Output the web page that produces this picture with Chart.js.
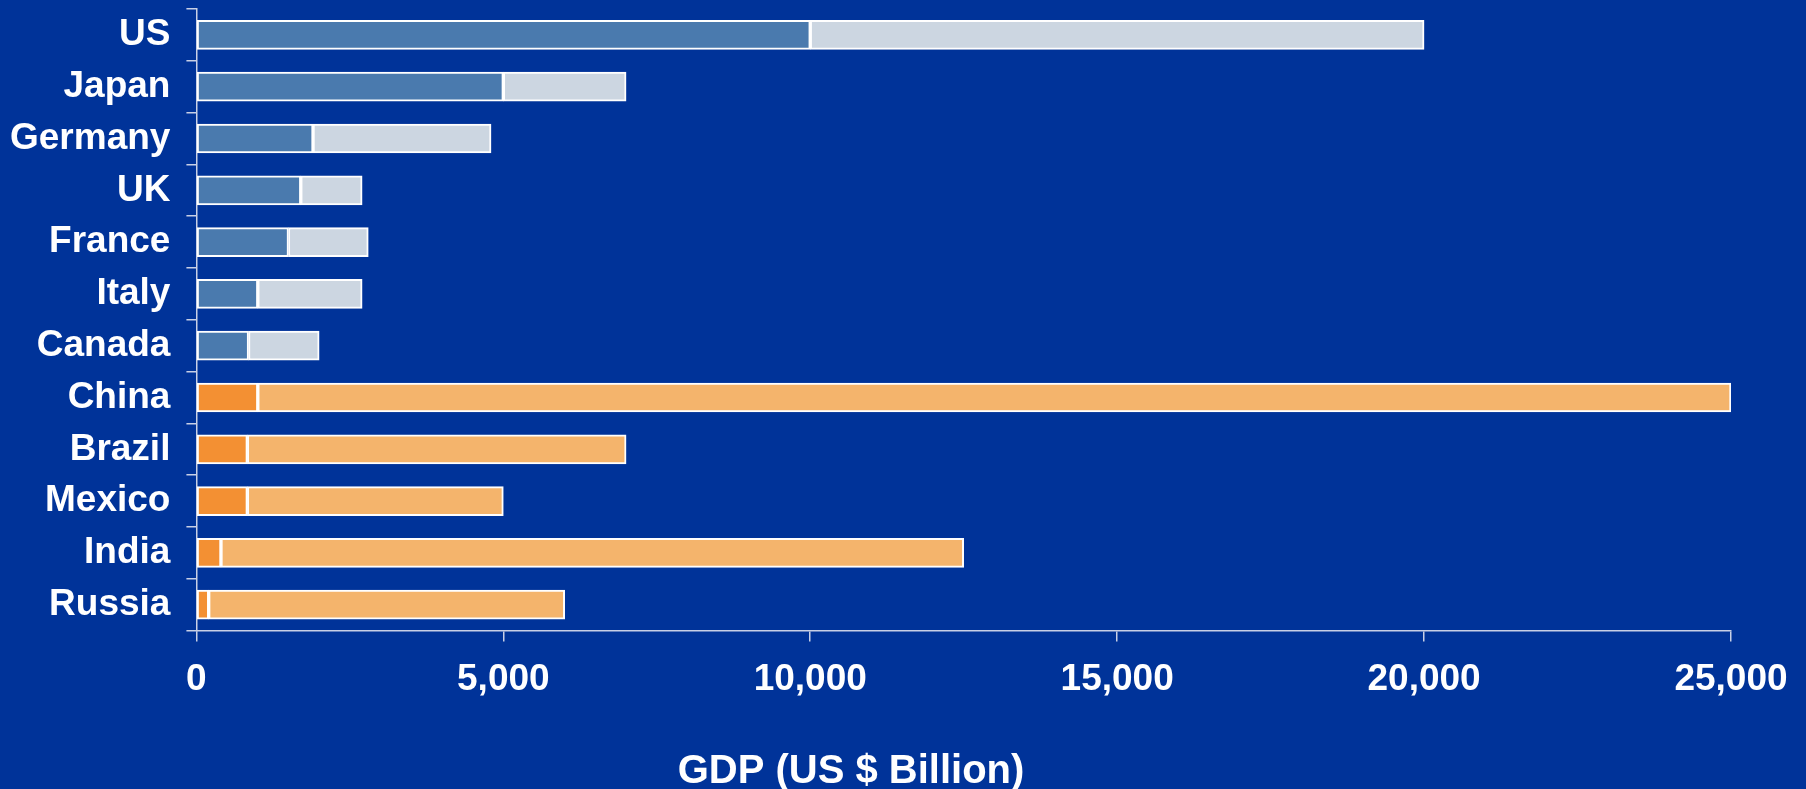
<!DOCTYPE html>
<html>
<head>
<meta charset="utf-8">
<script src="https://cdn.jsdelivr.net/npm/chart.js@4"></script>
<style>
  html, body { margin: 0; padding: 0; background: #003399; }
  #c { display: block; }
</style>
</head>
<body>
<canvas id="c" width="1806" height="789"></canvas>
<script>
const countries = ["US", "Japan", "Germany", "UK", "France", "Italy", "Canada", "China", "Brazil", "Mexico", "India", "Russia"];
const currentGdp = [10000, 5000, 1900, 1700, 1500, 1000, 850, 1000, 830, 830, 400, 200];
const additionalGdp = [10000, 2000, 2900, 1000, 1300, 1700, 1150, 24000, 6170, 4170, 12100, 5800];
const groups = ["G7", "G7", "G7", "G7", "G7", "G7", "G7", "EM", "EM", "EM", "EM", "EM"];
const xTicks = [0, 5000, 10000, 15000, 20000, 25000];
const axisTitle = "GDP (US $ Billion)";

const darkColors = { G7: "#4a7aae", EM: "#f39033" };
const lightColors = { G7: "#ccd6e1", EM: "#f4b46c" };
const FONT = "'Liberation Sans', Arial, sans-serif";
const lineColor = "#c8d0e6";

const titlePlugin = {
  id: "gdpTitle",
  afterDraw(chart) {
    const ctx = chart.ctx;
    ctx.save();
    ctx.fillStyle = "#ffffff";
    ctx.font = "bold 40px " + FONT;
    ctx.textAlign = "center";
    ctx.textBaseline = "alphabetic";
    ctx.fillText(axisTitle, 851, 783);
    ctx.restore();
  }
};

new Chart(document.getElementById("c"), {
  type: "bar",
  data: {
    labels: countries,
    datasets: [
      {
        data: currentGdp,
        backgroundColor: groups.map(g => darkColors[g]),
        borderColor: "#ffffff",
        borderWidth: 2,
        borderSkipped: false,
        barThickness: 29
      },
      {
        data: additionalGdp,
        backgroundColor: groups.map(g => lightColors[g]),
        borderColor: "#ffffff",
        borderWidth: 2,
        borderSkipped: false,
        barThickness: 29
      }
    ]
  },
  options: {
    indexAxis: "y",
    responsive: false,
    animation: false,
    layout: { padding: { left: 10, top: 9, right: 75, bottom: 71 } },
    plugins: { legend: { display: false }, tooltip: { enabled: false }, title: { display: false } },
    scales: {
      x: {
        stacked: true,
        min: 0,
        max: 25000,
        afterBuildTicks: (axis) => { axis.ticks = xTicks.map(v => ({ value: v })); },
        afterFit: (scale) => { scale.paddingLeft = 0; scale.paddingRight = 0; },
        ticks: {
          color: "#ffffff",
          font: { family: FONT, size: 37, weight: "bold" },
          padding: 16,
          maxRotation: 0,
          callback: (v) => Number(v).toLocaleString("en-US")
        },
        grid: { drawOnChartArea: false, drawTicks: true, tickLength: 11, color: lineColor, lineWidth: 1.5 },
        border: { display: true, color: lineColor, width: 1.5 }
      },
      y: {
        stacked: true,
        afterFit: (scale) => { scale.paddingTop = 0; scale.paddingBottom = 0; scale.width = scale.width - 16; },
        ticks: {
          color: "#ffffff",
          font: { family: FONT, size: 37, weight: "bold" },
          padding: 16
        },
        grid: { offset: true, drawOnChartArea: false, drawTicks: true, tickLength: 10, color: lineColor, lineWidth: 1.5 },
        border: { display: true, color: lineColor, width: 1.5 }
      }
    }
  },
  plugins: [titlePlugin]
});
</script>
</body>
</html>
